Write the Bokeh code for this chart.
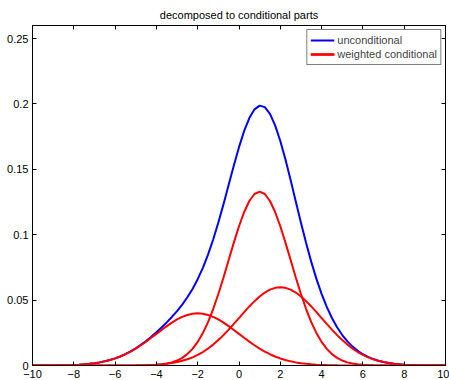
from bokeh.plotting import figure
from bokeh.models import Range1d, LinearAxis, Legend, LegendItem, FixedTicker
from bokeh.embed import file_html
from bokeh.resources import INLINE
import numpy as np

# Sample positions along x (step 0.25 from -10 to 10)
x_vals = np.arange(-10, 10.001, 0.25)

# Weighted conditional component centred at x = -2
cond_left = [
    0.00001, 0.00002, 0.00004, 0.00006, 0.00009, 0.00013, 0.00020, 0.00030,
    0.00044, 0.00064, 0.00091, 0.00127, 0.00175, 0.00238, 0.00317, 0.00417,
    0.00540, 0.00688, 0.00863, 0.01065, 0.01295, 0.01550, 0.01826, 0.02119,
    0.02419, 0.02720, 0.03011, 0.03281, 0.03520, 0.03718, 0.03866, 0.03958,
    0.03989, 0.03958, 0.03866, 0.03718, 0.03520, 0.03281, 0.03011, 0.02720,
    0.02419, 0.02119, 0.01826, 0.01550, 0.01295, 0.01065, 0.00863, 0.00688,
    0.00540, 0.00417, 0.00317, 0.00238, 0.00175, 0.00127, 0.00091, 0.00064,
    0.00044, 0.00030, 0.00020, 0.00013, 0.00009, 0.00006, 0.00004, 0.00002,
    0.00001, 0.0, 0.0, 0.0, 0.0, 0.0, 0.0, 0.0,
    0.0, 0.0, 0.0, 0.0, 0.0, 0.0, 0.0, 0.0, 0.0,
]

# Weighted conditional component centred at x = 1 (the tall one)
cond_mid = [
    0.0, 0.0, 0.0, 0.0, 0.0, 0.0, 0.0, 0.0,
    0.0, 0.0, 0.0, 0.0, 0.0, 0.0, 0.0, 0.0,
    0.0, 0.0, 0.00001, 0.00002, 0.00004, 0.00009, 0.00016, 0.00029,
    0.00051, 0.00088, 0.00148, 0.00240, 0.00380, 0.00584, 0.00874, 0.01272,
    0.01800, 0.02477, 0.03316, 0.04317, 0.05467, 0.06733, 0.08066, 0.09397,
    0.10648, 0.11736, 0.12579, 0.13115, 0.13298, 0.13115, 0.12579, 0.11736,
    0.10648, 0.09397, 0.08066, 0.06733, 0.05467, 0.04317, 0.03316, 0.02477,
    0.01800, 0.01272, 0.00874, 0.00584, 0.00380, 0.00240, 0.00148, 0.00088,
    0.00051, 0.00029, 0.00016, 0.00009, 0.00004, 0.00002, 0.00001, 0.0,
    0.0, 0.0, 0.0, 0.0, 0.0, 0.0, 0.0, 0.0, 0.0,
]

# Weighted conditional component centred at x = 2
cond_right = [
    0.0, 0.0, 0.0, 0.0, 0.0, 0.0, 0.0, 0.0,
    0.0, 0.0, 0.0, 0.0, 0.0, 0.0, 0.00001, 0.00001,
    0.00002, 0.00003, 0.00005, 0.00008, 0.00013, 0.00020, 0.00030, 0.00045,
    0.00066, 0.00096, 0.00136, 0.00191, 0.00263, 0.00357, 0.00476, 0.00626,
    0.00810, 0.01032, 0.01294, 0.01598, 0.01943, 0.02325, 0.02740, 0.03178,
    0.03629, 0.04081, 0.04517, 0.04922, 0.05281, 0.05578, 0.05800, 0.05937,
    0.05984, 0.05937, 0.05800, 0.05578, 0.05281, 0.04922, 0.04517, 0.04081,
    0.03629, 0.03178, 0.02740, 0.02325, 0.01943, 0.01598, 0.01294, 0.01032,
    0.00810, 0.00626, 0.00476, 0.00357, 0.00263, 0.00191, 0.00136, 0.00096,
    0.00066, 0.00045, 0.00030, 0.00020, 0.00013, 0.00008, 0.00005, 0.00003, 0.00002,
]

# Unconditional density
unconditional = [
    0.00001, 0.00002, 0.00004, 0.00006, 0.00009, 0.00013, 0.00020, 0.00030,
    0.00044, 0.00064, 0.00091, 0.00127, 0.00175, 0.00238, 0.00318, 0.00418,
    0.00542, 0.00691, 0.00869, 0.01075, 0.01312, 0.01579, 0.01872, 0.02193,
    0.02536, 0.02904, 0.03295, 0.03712, 0.04163, 0.04659, 0.05216, 0.05856,
    0.06599, 0.07467, 0.08476, 0.09633, 0.10930, 0.12339, 0.13817, 0.15295,
    0.16696, 0.17936, 0.18922, 0.19587, 0.19874, 0.19758, 0.19242, 0.18361,
    0.17172, 0.15751, 0.14183, 0.12549, 0.10923, 0.09366, 0.07924, 0.06622,
    0.05473, 0.04480, 0.03634, 0.02922, 0.02332, 0.01844, 0.01446, 0.01122,
    0.00862, 0.00655, 0.00492, 0.00366, 0.00267, 0.00193, 0.00137, 0.00096,
    0.00066, 0.00045, 0.00030, 0.00020, 0.00013, 0.00008, 0.00005, 0.00003, 0.00002,
]

x_ticks = [-10, -8, -6, -4, -2, 0, 2, 4, 6, 8, 10]
x_tick_labels = ["\u221210", "\u22128", "\u22126", "\u22124", "\u22122", "0", "2", "4", "6", "8", "10"]
y_ticks = [0, 0.05, 0.1, 0.15, 0.2, 0.25]
y_tick_labels = ["0", "0.05", "0.1", "0.15", "0.2", "0.25"]

FONT = "Liberation Sans"
FS = "11px"

p = figure(
    width=449, height=380,
    x_range=Range1d(-10, 10), y_range=Range1d(0, 0.26),
    output_backend="svg", toolbar_location=None,
    x_axis_location=None, y_axis_location=None,
    min_border_left=32, min_border_right=4,
    min_border_top=25, min_border_bottom=14,
)
p.title.text = "decomposed to conditional parts"
p.title.align = "center"
p.title.text_font = FONT
p.title.text_font_size = FS
p.title.text_font_style = "normal"
p.title.text_color = "black"
p.title.standoff = 10
p.grid.grid_line_color = None
p.outline_line_color = "black"
p.outline_line_width = 1
p.background_fill_color = "white"
p.border_fill_color = "white"


def make_axis(ticks, labels, show_labels):
    ax = LinearAxis(ticker=FixedTicker(ticks=ticks))
    ax.major_tick_in = 4
    ax.major_tick_out = 0
    ax.minor_tick_in = 0
    ax.minor_tick_out = 0
    ax.axis_line_color = "black"
    ax.major_tick_line_color = "black"
    ax.major_label_text_font = FONT
    ax.major_label_text_color = "black"
    if show_labels:
        ax.major_label_overrides = {t: l for t, l in zip(ticks, labels)}
        ax.major_label_text_font_size = FS
        ax.major_label_standoff = 4
    else:
        ax.major_label_overrides = {t: "" for t in ticks}
        ax.major_label_text_font_size = "0px"
        ax.major_label_standoff = 0
    return ax


p.add_layout(make_axis(x_ticks, x_tick_labels, True), "below")
p.add_layout(make_axis(y_ticks, y_tick_labels, True), "left")
p.add_layout(make_axis(x_ticks, x_tick_labels, False), "above")
p.add_layout(make_axis(y_ticks, y_tick_labels, False), "right")

blue = p.line(x_vals, unconditional, line_color="#0000ff", line_width=2)
r1 = p.line(x_vals, cond_mid, line_color="#ff0000", line_width=2)
r2 = p.line(x_vals, cond_left, line_color="#ff0000", line_width=2)
r3 = p.line(x_vals, cond_right, line_color="#ff0000", line_width=2)

legend = Legend(
    items=[
        LegendItem(label="unconditional", renderers=[blue]),
        LegendItem(label="weighted conditional", renderers=[r1, r2, r3]),
    ],
    location="top_right",
    margin=4, padding=3, spacing=0,
    glyph_width=24, glyph_height=14, label_height=14,
    label_standoff=3,
    label_text_font=FONT, label_text_font_size=FS,
    border_line_color="black", border_line_width=1,
    background_fill_color="white", background_fill_alpha=1.0,
)
p.add_layout(legend, "center")

open("out.html", "w").write(file_html(p, INLINE))
